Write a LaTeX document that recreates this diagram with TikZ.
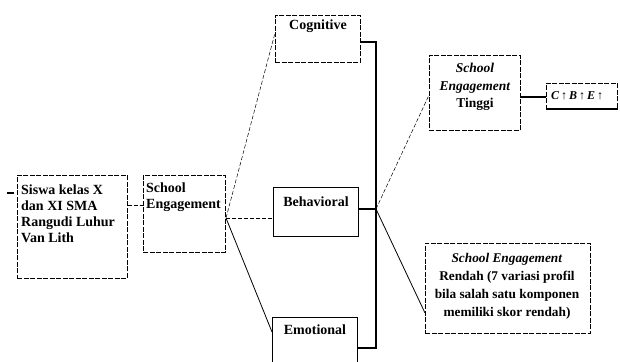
\documentclass[tikz,border=0pt]{standalone}
\usepackage{fontspec}
\setmainfont{Liberation Serif}
\usetikzlibrary{calc}
\begin{document}
\begin{tikzpicture}[x=1pt,y=-1pt,
  box/.style={draw, line width=0.7pt, dash pattern=on 5pt off 1.5pt, inner sep=0pt, anchor=north west},
  solidbox/.style={draw, line width=1.1pt, inner sep=0pt, anchor=north west},
  txt/.style={inner sep=0pt, font=\bfseries\fontsize{14}{16}\selectfont},
  dconn/.style={line width=0.6pt, dash pattern=on 4pt off 2pt},
  sconn/.style={line width=0.8pt},
  thickconn/.style={line width=1.6pt}]
\useasboundingbox (0,0) rectangle (620,361);
% boxes
\node[box, minimum width=110pt, minimum height=103pt] (siswa) at (17,175) {};
\node[box, minimum width=82pt, minimum height=77pt] (school) at (143,175) {};
\node[box, line width=0.5pt, minimum width=85pt, minimum height=47pt] (cog) at (275,15) {};
\node[solidbox, line width=0.8pt, minimum width=85pt, minimum height=49pt] (beh) at (273,187) {};
\node[solidbox, minimum width=85pt, minimum height=52pt] (emo) at (272,317) {};
\node[box, line width=0.5pt, minimum width=91pt, minimum height=75pt] (tinggi) at (429,55) {};
\node[box, minimum width=165pt, minimum height=90pt] (rendah) at (425,243) {};
\node[box, minimum width=71pt, minimum height=25pt] (cbe) at (546,83) {};
\draw[line width=1.6pt] (cbe.south west) -- (cbe.south east);
% texts
\node[txt, anchor=north west, align=left] (tsiswa) at (21,185) {Siswa kelas X\\dan XI SMA\\Rangudi Luhur\\Van Lith};
\node[txt, anchor=north west, align=left] (tschool) at (146,183) {School\\Engagement};
\node[txt, anchor=north] (tcog) at (318,20) {Cognitive};
\node[txt, anchor=north] (tbeh) at (316,197) {Behavioral};
\node[txt, anchor=north] (temo) at (315,325) {Emotional};
\node[txt, anchor=north, align=center, font=\bfseries\fontsize{13.5}{17.5}\selectfont] (ttinggi) at (475,63) {\textit{School}\\\textit{Engagement}\\Tinggi};
\node[txt, anchor=north, align=center, font=\bfseries\fontsize{13.3}{18}\selectfont] (trendah) at (507,253) {\textit{School Engagement}\\Rendah (7 variasi profil\\bila salah satu komponen\\memiliki skor rendah)};
\node[txt, anchor=west, font=\bfseries\itshape\fontsize{12}{14}\selectfont] (tcbe) at (551,96) {C\,↑\,B\,↑\,E\,↑};
% connectors
\coordinate (tick) at (7,193);
\draw[sconn, line width=1.2pt] (tick) -- ($(siswa.west |- tick)+(-3,0)$);
\draw[dconn] (siswa.east |- 0,205) -- (school.west |- 0,205);
\coordinate (sb) at (226,218);
\draw[dconn, line width=0.5pt] (sb) -- (cog.west |- 0,33);
\draw[dconn] (sb) -- (beh.west |- sb);
\draw[sconn] (sb) -- (emo.west |- 0,332);
% bracket
\coordinate (bb) at (376,209);
\draw[thickconn] (cog.east |- 0,42) -- (376,42) -- (376,348) -- (emo.east |- 0,348);
\draw[thickconn] (beh.east |- bb) -- (bb);
\draw[dconn, line width=0.5pt] (bb) -- (tinggi.west |- 0,95);
\draw[sconn] (bb) -- (rendah.west |- 0,313);
\draw[thickconn] (tinggi.east |- 0,97) -- (cbe.west |- 0,97);
\end{tikzpicture}
\end{document}
